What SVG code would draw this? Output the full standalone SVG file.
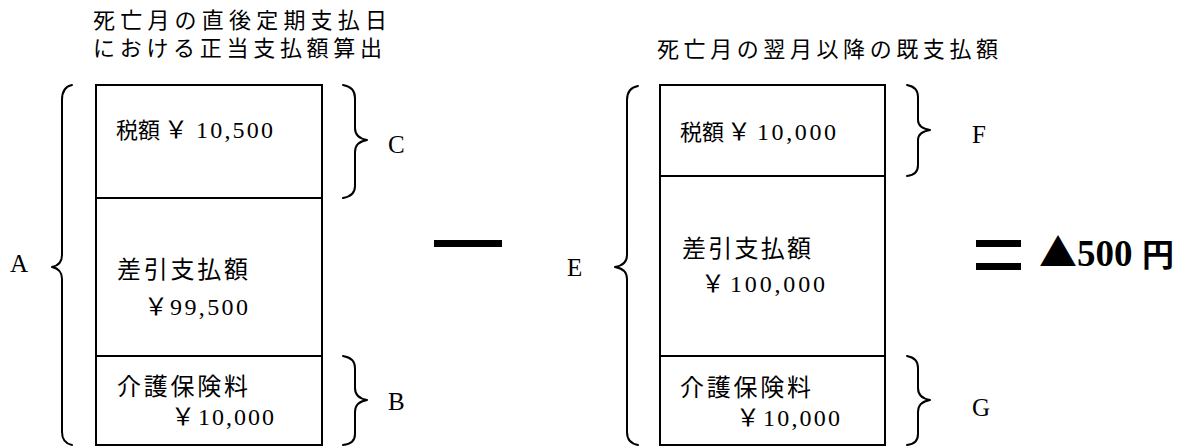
<svg xmlns="http://www.w3.org/2000/svg" width="1188" height="447" viewBox="0 0 1188 447">
<style>
  .box { fill: #fff; stroke: #000; stroke-width: 2; }
  .div { stroke: #000; stroke-width: 2; }
  .brace { fill: none; stroke: #000; stroke-width: 2; stroke-linecap: round; stroke-linejoin: round; }
  .t { font-family: "Liberation Serif", "Noto Sans CJK JP", serif; font-size: 24px; fill: #000; }
  .k { font-size: 22px; }
  .n { font-size: 24px; }
  .title { font-family: "Liberation Serif", "Noto Sans CJK JP", serif; font-size: 22px; fill: #000; }
  .lbl { font-family: "Liberation Serif", "Noto Sans CJK JP", serif; font-size: 25px; fill: #000; }
  .res { font-family: "Liberation Serif", "Noto Sans CJK JP", serif; font-weight: bold; fill: #000; }
</style>
<rect width="1188" height="447" fill="#fff"/>

<g id="title-left">
  <text class="title" x="93" y="28" textLength="294" lengthAdjust="spacing">死亡月の直後定期支払日</text>
  <text class="title" x="93" y="56" textLength="289" lengthAdjust="spacing">における正当支払額算出</text>
</g>
<g id="title-right">
  <text class="title" x="657" y="57" textLength="341" lengthAdjust="spacing">死亡月の翌月以降の既支払額</text>
</g>

<g id="box-left">
  <rect class="box" x="96" y="85" width="226" height="360"/>
  <line class="div" x1="96" y1="198" x2="322" y2="198"/>
  <line class="div" x1="96" y1="356" x2="322" y2="356"/>
  <text class="t" y="138"><tspan class="k" x="116">税額</tspan><tspan class="n" x="164">￥</tspan><tspan class="n" x="196" textLength="77" lengthAdjust="spacing">10,500</tspan></text>
  <text class="t" x="117" y="278" textLength="131" lengthAdjust="spacing">差引支払額</text>
  <text class="t" y="315"><tspan class="n" x="144">￥</tspan><tspan class="n" x="170" textLength="78" lengthAdjust="spacing">99,500</tspan></text>
  <text class="t" x="117" y="395" textLength="131" lengthAdjust="spacing">介護保険料</text>
  <text class="t" y="425"><tspan class="n" x="171">￥</tspan><tspan class="n" x="198" textLength="76" lengthAdjust="spacing">10,000</tspan></text>
</g>

<g id="box-right">
  <rect class="box" x="660" y="85" width="225" height="360"/>
  <line class="div" x1="660" y1="176" x2="885" y2="176"/>
  <line class="div" x1="660" y1="356" x2="885" y2="356"/>
  <text class="t" y="140"><tspan class="k" x="680">税額</tspan><tspan class="n" x="727">￥</tspan><tspan class="n" x="757" textLength="79" lengthAdjust="spacing">10,000</tspan></text>
  <text class="t" x="682" y="257" textLength="129" lengthAdjust="spacing">差引支払額</text>
  <text class="t" y="292"><tspan class="n" x="701">￥</tspan><tspan class="n" x="730" textLength="95" lengthAdjust="spacing">100,000</tspan></text>
  <text class="t" x="680" y="396" textLength="131" lengthAdjust="spacing">介護保険料</text>
  <text class="t" y="426"><tspan class="n" x="736">￥</tspan><tspan class="n" x="763" textLength="77" lengthAdjust="spacing">10,000</tspan></text>
</g>

<g id="connectors">
  <path class="brace" d="M72,85 Q62,87 62,100 L62,255 Q62,265 52,267 Q62,269 62,279 L62,432 Q62,443 72,445"/>
  <path class="brace" d="M343,85 Q355,87 355,98 L355,128 Q355,138 367,140 Q355,142 355,152 L355,186 Q355,196 343,198"/>
  <path class="brace" d="M343,356 Q355,358 355,368 L355,388 Q355,398 367,400 Q355,402 355,412 L355,434 Q355,444 343,445"/>
  <path class="brace" d="M638,86 Q627,88 627,100 L627,255 Q627,265 615,267 Q627,269 627,279 L627,432 Q627,443 638,445"/>
  <path class="brace" d="M907,85 Q918,87 918,97 L918,120 Q918,128 930,130 Q918,132 918,140 L918,165 Q918,175 907,176"/>
  <path class="brace" d="M907,356 Q918,358 918,368 L918,388 Q918,398 930,400 Q918,402 918,412 L918,434 Q918,444 907,445"/>
</g>

<g id="labels">
  <text class="lbl" x="10" y="272">A</text>
  <text class="lbl" x="388" y="153">C</text>
  <text class="lbl" x="388" y="410">B</text>
  <text class="lbl" x="567" y="276">E</text>
  <text class="lbl" x="972" y="143">F</text>
  <text class="lbl" x="972" y="416">G</text>
</g>

<g id="minus">
  <rect x="434" y="240" width="68" height="7" fill="#000"/>
</g>

<g id="result">
  <rect x="976" y="240" width="45" height="7" fill="#000"/>
  <rect x="976" y="263" width="45" height="7" fill="#000"/>
  <text class="res" y="266" font-size="37"><tspan x="1039" font-family="Noto Sans CJK JP, sans-serif" font-size="38">▲</tspan><tspan x="1077">500</tspan><tspan x="1142" font-size="32">円</tspan></text>
</g>
</svg>
